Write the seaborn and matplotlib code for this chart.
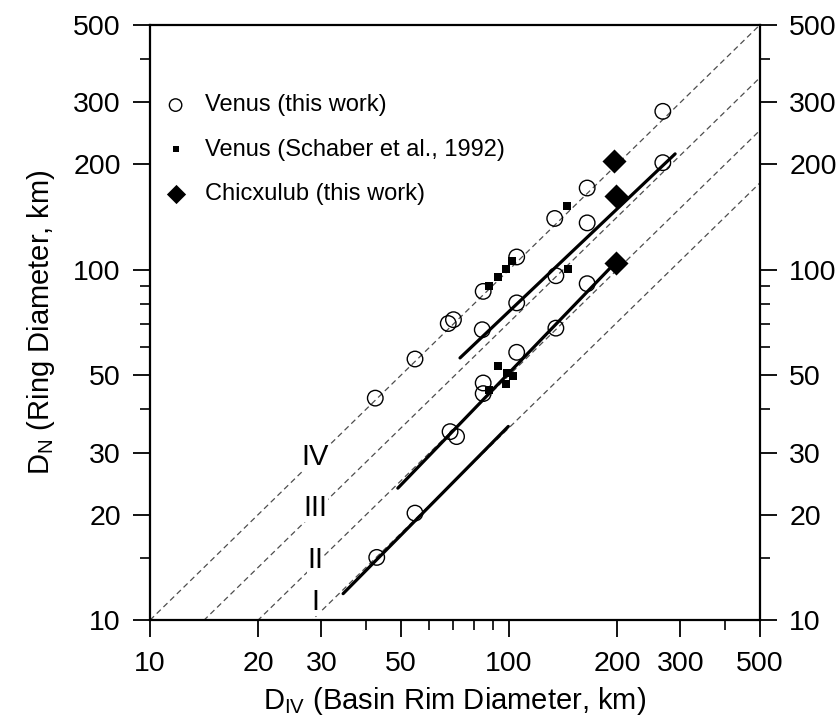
"""
Ring diameter vs basin rim diameter for Venus multi-ring basins and Chicxulub.
"""
import matplotlib
matplotlib.use("Agg")
import matplotlib.pyplot as plt
import numpy as np
import pandas as pd
import seaborn as sns

# Venus (this work): rim diameter D_IV and ring diameter D_N, km
venus_rim = [42.4, 54.7, 67.7, 70.0, 84.7, 105, 134, 165, 268,
             84.2, 105, 135, 165, 268,
             68.5, 71.4, 84.7, 84.7, 105, 135, 165,
             42.8, 54.7]
venus_ring = [43.0, 55.6, 70.2, 72.0, 86.7, 108.7, 140, 171, 283,
              67.4, 80.4, 96.1, 136, 202,
              34.5, 33.4, 47.5, 44.3, 58.1, 68.1, 91.2,
              15.1, 20.2]

# Venus (Schaber et al., 1992)
schaber_rim = [88.1, 93.3, 98.2, 101.7, 145, 146, 93.3, 98.5, 102.8, 98.2, 88.1]
schaber_ring = [90.0, 95.3, 100.4, 105.7, 152, 100.4, 53.2, 50.7, 49.8, 47.2, 45.4]

# Chicxulub (this work)
chicx_rim = [196, 198, 198]
chicx_ring = [204, 162, 104.5]

# fitted ring trends (solid lines), ends of each segment
fit_names = ["III", "II", "I"]
fit_rim = [[73, 290], [49, 191], [34.5, 99.5]]
fit_ring = [[56, 214], [23.8, 101], [11.9, 35.7]]

# sqrt(2) spaced reference rings (dashed lines), D_N / D_IV
ring_names = ["IV", "III", "II", "I"]
ring_ratio = [1.0, 0.707, 0.5, 0.354]
axis_ticks = [10, 20, 30, 50, 100, 200, 300, 500]
minor_x = [40, 60, 70, 80, 90, 400]
minor_y = [15, 40, 60, 70, 80, 90, 400]

sns.set_style("ticks")
plt.rcParams["font.family"] = ["Liberation Sans", "DejaVu Sans"]
plt.rcParams["mathtext.fontset"] = "custom"
plt.rcParams["mathtext.rm"] = "Liberation Sans"
plt.rcParams["text.color"] = "black"
plt.rcParams["axes.labelcolor"] = "black"

fig = plt.figure(figsize=(8.38, 7.27), dpi=100)
ax = fig.add_axes([0.179, 0.147, 0.728, 0.819])
ax.set_xscale("log")
ax.set_yscale("log")

# dashed reference lines
span = [10, 500]
for name, r in zip(ring_names, ring_ratio):
    ref = pd.DataFrame({"x": span, "y": [v * r for v in span]})
    sns.lineplot(data=ref, x="x", y="y", ax=ax, color="0.3", lw=0.9,
                 linestyle=(0, (4.5, 3)), zorder=1)

# fitted solid lines
for name, xs, ys in zip(fit_names, fit_rim, fit_ring):
    seg = pd.DataFrame({"x": xs, "y": ys})
    sns.lineplot(data=seg, x="x", y="y", ax=ax, color="black", lw=2.3, zorder=2)

venus = pd.DataFrame({"rim": venus_rim, "ring": venus_ring})
schaber = pd.DataFrame({"rim": schaber_rim, "ring": schaber_ring})
chicx = pd.DataFrame({"rim": chicx_rim, "ring": chicx_ring})

sns.scatterplot(data=venus, x="rim", y="ring", ax=ax, marker="o", s=125,
                facecolor="none", edgecolor="black", linewidth=1.0,
                label="Venus (this work)", zorder=3)
sns.scatterplot(data=schaber, x="rim", y="ring", ax=ax, marker="s", s=30,
                color="black", edgecolor="black", linewidth=0,
                label="Venus (Schaber et al., 1992)", zorder=4)
sns.scatterplot(data=chicx, x="rim", y="ring", ax=ax, marker="D", s=150,
                color="black", edgecolor="black", linewidth=0,
                label="Chicxulub (this work)", zorder=5)

# ring labels
for name, yy in zip(ring_names, [29.2, 20.9, 14.8, 11.3]):
    ax.text(28.9, yy, name, fontsize=21, ha="center", va="center",
            family=["Liberation Sans Narrow", "Liberation Sans"],
            color="black", zorder=6,
            bbox=dict(facecolor="white", edgecolor="none", pad=0.3))

ax.set_xlim(10, 500)
ax.set_ylim(10, 500)
ax.set_xticks(axis_ticks)
ax.set_xticklabels([str(t) for t in axis_ticks])
ax.set_yticks(axis_ticks)
ax.set_yticklabels([str(t) for t in axis_ticks])
ax.set_xticks(minor_x, minor=True)
ax.set_yticks(minor_y, minor=True)
ax.xaxis.set_minor_formatter(matplotlib.ticker.NullFormatter())
ax.yaxis.set_minor_formatter(matplotlib.ticker.NullFormatter())

ax.tick_params(axis="both", which="major", direction="out", length=12,
               width=1.3, labelsize=20.5, color="black", labelcolor="black")
ax.tick_params(axis="both", which="minor", direction="out", length=7,
               width=1.2, color="black")
ax.tick_params(axis="y", which="both", left=True, right=True,
               labelleft=True, labelright=True)
ax.tick_params(axis="y", which="major", pad=9)
ax.tick_params(axis="x", which="both", top=False, bottom=True)
ax.tick_params(axis="x", which="major", pad=10)

for sp in ax.spines.values():
    sp.set_visible(True)
    sp.set_linewidth(1.6)
    sp.set_color("black")

ax.set_xlabel(r"D$_{\mathrm{IV}}$ (Basin Rim Diameter, km)", fontsize=21, labelpad=6)
ax.set_ylabel(r"D$_{\mathrm{N}}$ (Ring Diameter, km)", fontsize=21, labelpad=12)
ax.grid(False)

leg = ax.legend(loc="upper left", bbox_to_anchor=(-0.02, 0.907), frameon=False,
                fontsize=17, handletextpad=0.25, labelspacing=0.95,
                markerscale=0.8, borderaxespad=0.2)

fig.savefig("out.png", dpi=100)
